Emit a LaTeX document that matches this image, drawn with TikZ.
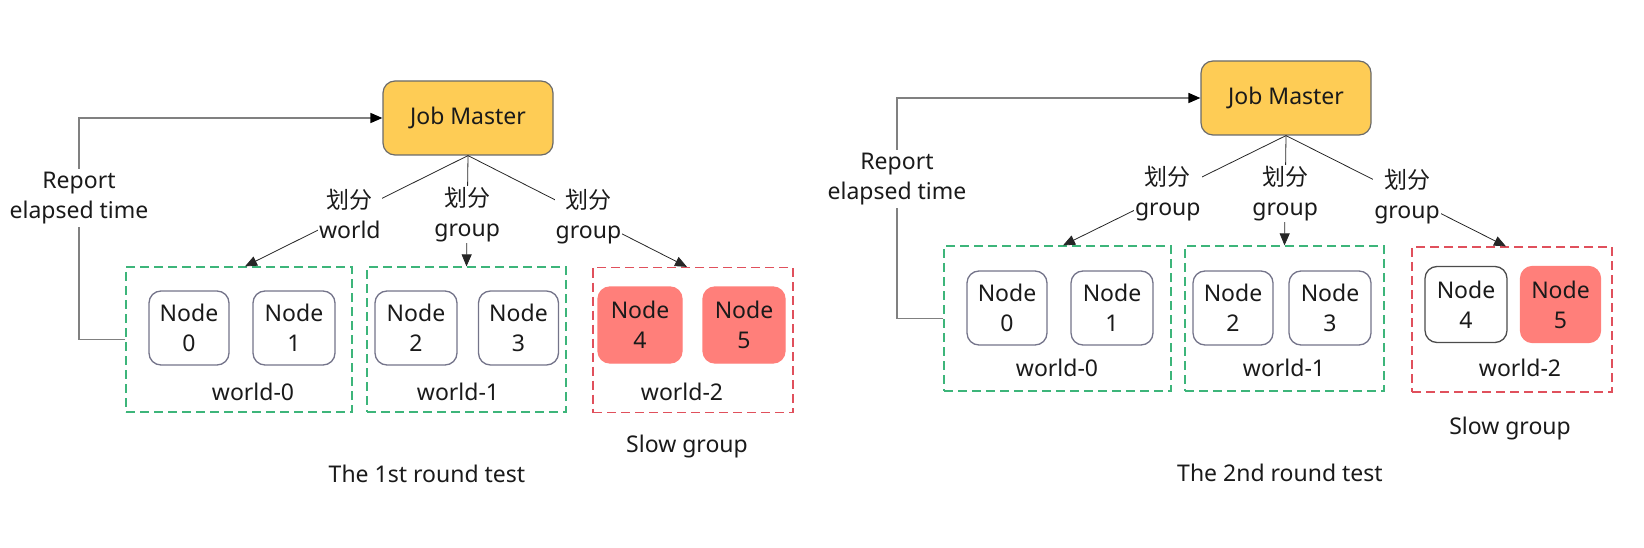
\documentclass[tikz,border=0pt]{standalone}
\usepackage{fontspec}
\setmainfont{Noto Sans}
\newfontfamily\cjk{Noto Sans CJK SC}
\usetikzlibrary{arrows.meta}
\definecolor{masterfill}{HTML}{FECC55}
\definecolor{masterline}{HTML}{6A6A6A}
\definecolor{workerline}{HTML}{74748A}
\definecolor{slowfill}{HTML}{FF7F7A}
\definecolor{worldgreen}{HTML}{3DB57A}
\definecolor{worldred}{HTML}{E0505C}
\definecolor{textblack}{HTML}{1A1A1A}
\tikzstyle{master} = [rectangle, rounded corners=12pt, minimum width=170pt, minimum height=74pt, text centered, draw=masterline, line width=1.2pt, fill=masterfill]
\tikzstyle{worker} = [rectangle, rounded corners=12pt, minimum width=80pt, minimum height=74pt, align=center, draw=workerline, line width=1.3pt, fill=white]
\tikzstyle{slow} = [worker, draw=slowfill, fill=slowfill, minimum height=76pt]
\tikzstyle{world} = [rectangle, minimum height=145pt, draw=worldgreen, dash pattern=on 9pt off 5pt, line width=1.2pt]
\tikzstyle{slowworld} = [world, draw=worldred]
\tikzstyle{arrow} = [draw=black!85, line width=0.8pt, -{Triangle[length=12pt, width=10pt]}]
\tikzstyle{report} = [draw=black!50, line width=1.6pt]
\tikzstyle{cut} = [fill=white, align=center, inner sep=1pt]

\begin{document}
\begin{tikzpicture}[x=1pt, y=-1pt, font=\fontsize{23}{30}\selectfont, text=textblack]
	\useasboundingbox (0,0) rectangle (1644,548);

	% the 1st round
	\node (jm1) [master] at (468,118) {Job Master};
	\node (w10) [world, minimum width=226pt] at (239,339.5) {};
	\node (w11) [world, minimum width=199pt] at (466.5,339.5) {};
	\node (w12) [slowworld, minimum width=200pt] at (693,340) {};
	\node (n10) [worker] at (189,328) {Node\\0};
	\node (n11) [worker, minimum width=82pt] at (294,328) {Node\\1};
	\node (n12) [worker, minimum width=82pt] at (416,328) {Node\\2};
	\node (n13) [worker] at (518.5,328) {Node\\3};
	\node (n14) [slow, minimum width=84pt] at (640,325) {Node\\4};
	\node (n15) [slow, minimum width=82pt] at (744,325) {Node\\5};
	\node (l10) at (253,392) {world-0};
	\node (l11) at (458,392) {world-1};
	\node (l12) at (682,392) {world-2};
	\node (s1) at (687,447) {Slow group};
	\node (t1) at (427,474) {The 1st round test};
	\node (rep1) [cut, inner sep=3pt] at (79,198) {Report\\elapsed time};

	\draw [arrow] (jm1.south) -- node [cut, pos=0.53] {{\cjk 划分}\\world} ([xshift=6pt]w10.north);
	\draw [arrow] (jm1.south) -- node [cut, pos=0.53] {{\cjk 划分}\\group} (w11.north);
	\draw [arrow] (jm1.south) -- node [cut, pos=0.55] {{\cjk 划分}\\group} ([xshift=-6pt]w12.north);
	\draw [report] (w10.west) -| (rep1.south);
	\draw [report, -{Triangle[length=12pt, width=10pt, color=black]}] (rep1.north) |- (jm1.west);

	% the 2nd round
	\node (jm2) [master] at (1286,98) {Job Master};
	\node (w20) [world, minimum width=227pt] at (1057.5,318.5) {};
	\node (w21) [world, minimum width=199pt] at (1284.5,318.5) {};
	\node (w22) [slowworld, minimum width=200pt] at (1512,319.5) {};
	\node (n20) [worker] at (1007,308) {Node\\0};
	\node (n21) [worker, minimum width=82pt] at (1112,308) {Node\\1};
	\node (n22) [worker] at (1233,308) {Node\\2};
	\node (n23) [worker, minimum width=82pt] at (1330,308) {Node\\3};
	\node (n24) [worker, draw=black!70, minimum width=82pt, minimum height=76pt] at (1466,304.5) {Node\\4};
	\node (n25) [slow, minimum width=80pt] at (1560.5,304.5) {Node\\5};
	\node (l20) at (1057,368) {world-0};
	\node (l21) at (1284,368) {world-1};
	\node (l22) at (1520,368) {world-2};
	\node (s2) at (1510,429) {Slow group};
	\node (t2) at (1280,473) {The 2nd round test};
	\node (rep2) [cut, inner sep=3pt] at (897,179) {Report\\elapsed time};

	\draw [arrow] (jm2.south) -- node [cut, pos=0.53] {{\cjk 划分}\\group} ([xshift=5.5pt]w20.north);
	\draw [arrow] (jm2.south) -- node [cut, pos=0.53] {{\cjk 划分}\\group} (w21.north);
	\draw [arrow] (jm2.south) -- node [cut, pos=0.55] {{\cjk 划分}\\group} ([xshift=-6pt]w22.north);
	\draw [report] (w20.west) -| (rep2.south);
	\draw [report, -{Triangle[length=12pt, width=10pt, color=black]}] (rep2.north) |- (jm2.west);
\end{tikzpicture}
\end{document}
